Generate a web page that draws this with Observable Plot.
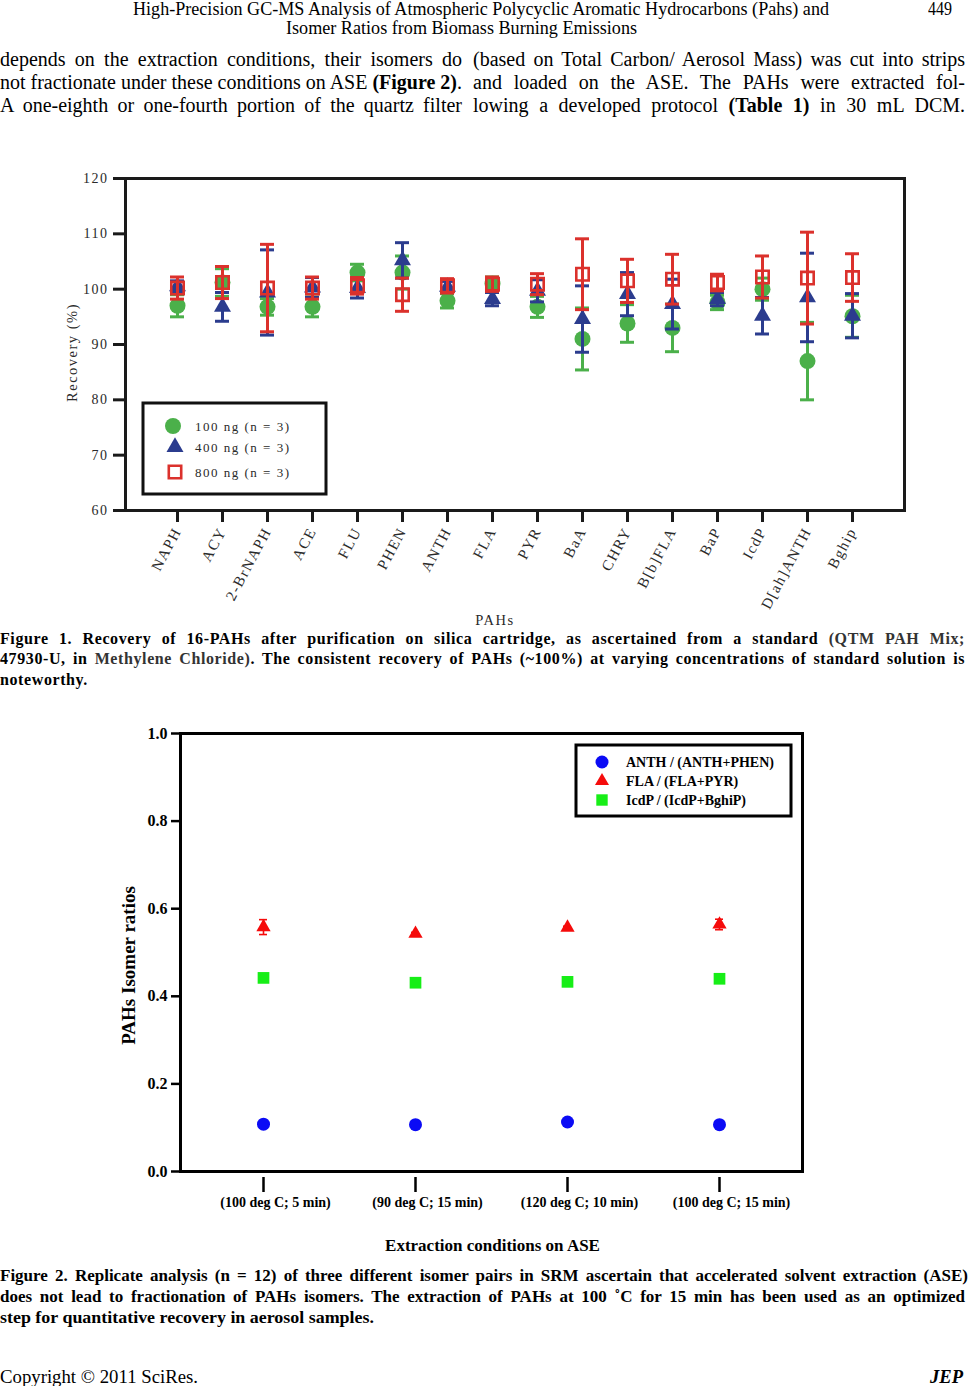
<!DOCTYPE html>
<html><head><meta charset="utf-8">
<script src="https://cdn.jsdelivr.net/npm/d3@7"></script>
<script src="https://cdn.jsdelivr.net/npm/@observablehq/plot@0.6"></script>
<style>
html,body{margin:0;padding:0;background:#fff}
body{width:970px;height:1386px;position:relative;overflow:hidden;font-family:"Liberation Serif","Times New Roman",serif;color:#000}
.ln{position:absolute;white-space:nowrap;line-height:1;transform-origin:0 50%}
.chart{position:absolute;left:0}
</style></head><body>
<div id="c1" class="chart" style="top:160px"></div>
<div id="c2" class="chart" style="top:715px"></div>
<script>
// ---------- Figure 1 data ----------
const pahs = ["NAPH","ACY","2-BrNAPH","ACE","FLU","PHEN","ANTH","FLA","PYR","BaA","CHRY","B[b]FLA","BaP","IcdP","D[ah]ANTH","Bghip"];
const rec100 = [97.0,101.2,96.8,96.8,103.0,103.0,97.9,101.0,96.8,91.0,93.8,93.0,97.6,100.0,87.0,95.1];
const sd100  = [2.0,2.5,1.5,1.8,1.5,3.0,1.3,1.2,1.9,5.6,3.4,4.3,1.3,2.0,7.0,3.8];
const rec400 = [100.5,96.8,99.4,100.3,100.2,105.2,100.4,98.2,99.7,94.6,99.1,97.3,98.2,95.2,98.5,95.2];
const sd400  = [1.0,2.6,7.7,1.8,1.8,3.2,1.0,1.2,2.0,6.0,3.9,4.5,1.2,3.3,8.0,4.0];
const rec800 = [100.2,101.2,100.2,100.2,100.6,99.0,100.6,100.9,100.9,102.7,101.5,101.8,101.2,102.2,102.0,102.1];
const sd800  = [2.0,2.9,7.9,2.0,1.5,3.0,1.3,1.3,1.9,6.4,3.9,4.5,1.5,3.8,8.3,4.3];
const yTicks1 = [60,70,80,90,100,110,120];
const legend1 = ["100 ng (n = 3)","400 ng (n = 3)","800 ng (n = 3)"];
const title1Y = "Recovery (%)", title1X = "PAHs";

// ---------- Figure 2 data ----------
const conditions = ["(100 deg C; 5 min)","(90 deg C; 15 min)","(120 deg C; 10 min)","(100 deg C; 15 min)"];
const anth = [0.108,0.107,0.113,0.107];
const anthSd = [0.003,0.003,0.003,0.003];
const fla = [0.558,0.543,0.557,0.564];
const flaSd = [0.017,0.003,0.003,0.012];
const icdp = [0.442,0.431,0.433,0.440];
const icdpSd = [0.004,0.004,0.004,0.004];
const yTicks2 = [0,0.2,0.4,0.6,0.8,1.0];
const legend2 = ["ANTH / (ANTH+PHEN)","FLA / (FLA+PYR)","IcdP / (IcdP+BghiP)"];
const title2Y = "PAHs Isomer ratios", title2X = "Extraction conditions on ASE";

const makeRows = (cats, vals, sds) => cats.map((c,i)=>({cat:c, v:vals[i], lo:vals[i]-sds[i], hi:vals[i]+sds[i]}));

// ---------- page text ----------
function addLine(html, o){
  const d = document.createElement("div");
  d.className = "ln";
  d.innerHTML = html;
  d.style.fontSize = o.size + "px";
  d.style.fontWeight = o.weight || "normal";
  d.style.fontStyle = o.style || "normal";
  if (o.ls) d.style.letterSpacing = o.ls + "px";
  if (o.color) d.style.color = o.color;
  d.style.left = o.x + "px";
  d.style.top = (o.y - o.size*0.55) + "px";
  document.body.appendChild(d);
  const nat = d.getBoundingClientRect().width;
  const mode = o.mode || "auto";
  if (mode === "auto" && nat <= o.w) {
    d.style.whiteSpace = "normal";
    d.style.width = o.w + "px";
    d.style.textAlign = "justify";
    d.style.textAlignLast = "justify";
  } else if (mode !== "none") {
    d.style.transform = `scaleX(${o.w/nat})`;
  }
}
addLine("High-Precision GC-MS Analysis of Atmospheric Polycyclic Aromatic Hydrocarbons (Pahs) and",{x:133,y:9,w:696,size:19,mode:"fit"});
addLine("Isomer Ratios from Biomass Burning Emissions",{x:286,y:28,w:351,size:19,mode:"fit"});
addLine("449",{x:928,y:9,w:24,size:19,mode:"fit"});

addLine("depends on the extraction conditions, their isomers do",{x:0,y:60,w:462,size:20});
addLine("not fractionate under these conditions on ASE <b>(Figure 2)</b>.",{x:0,y:83,w:462,size:20});
addLine("A one-eighth or one-fourth portion of the quartz filter",{x:0,y:106,w:462,size:20});
addLine("(based on Total Carbon/ Aerosol Mass) was cut into strips",{x:473,y:60,w:492,size:20});
addLine("and loaded on the ASE. The PAHs were extracted fol-",{x:473,y:83,w:492,size:20});
addLine("lowing a developed protocol <b>(Table 1)</b> in 30 mL DCM.",{x:473,y:106,w:492,size:20});

addLine("Figure 1. Recovery of 16-PAHs after purification on silica cartridge, as ascertained from a standard <span style='color:#333'>(QTM PAH Mix;</span>",{x:0,y:640,w:965,size:16,ls:0.6,weight:"bold"});
addLine("47930-U, in <span style='color:#333'>Methylene Chloride)</span>. The consistent recovery of PAHs (~100%) at varying concentrations of standard solution is",{x:0,y:660,w:965,size:16,ls:0.6,weight:"bold"});
addLine("noteworthy.",{x:0,y:681,w:86,size:16,ls:0.6,weight:"bold",mode:"none"});

addLine("Figure 2. Replicate analysis (n = 12) of three different isomer pairs in SRM ascertain that accelerated solvent extraction (ASE)",{x:0,y:1276,w:968,size:17,weight:"bold"});
addLine("does not lead to fractionation of PAHs isomers. The extraction of PAHs at 100 ˚C for 15 min has been used as an optimized",{x:0,y:1297,w:965,size:17,weight:"bold"});
addLine("step for quantitative recovery in aerosol samples.",{x:0,y:1318,w:374,size:17,weight:"bold",mode:"fit"});

addLine("Copyright © 2011 SciRes.",{x:0,y:1378,w:198,size:18,mode:"fit"});
addLine("JEP",{x:930,y:1378,w:33,size:18,weight:"bold",style:"italic",mode:"fit"});

// ---------- Figure 1 chart ----------
const G = "#4bb04a", B = "#2b3c8e", R = "#db312c";
const s1 = [
  {rows: makeRows(pahs, rec100, sd100), color: G, dot: {symbol:"circle", r:8, fill:G}},
  {rows: makeRows(pahs, rec400, sd400), color: B, dot: {symbol:"triangle", r:6.3, fill:B}},
  {rows: makeRows(pahs, rec800, sd800), color: R, dot: {symbol:"square", r:7, fill:"none", stroke:R, strokeWidth:2.6}}
];
const marks1 = s1.flatMap(s => [
  Plot.ruleX(s.rows, {x:"cat", y1:"lo", y2:"hi", stroke:s.color, strokeWidth:3}),
  Plot.tickY(s.rows, {x:"cat", y:"lo", stroke:s.color, strokeWidth:3}),
  Plot.tickY(s.rows, {x:"cat", y:"hi", stroke:s.color, strokeWidth:3}),
  Plot.dot(s.rows, {x:"cat", y:"v", ...s.dot})
]);
const chart1 = Plot.plot({
  width: 970, height: 475,
  marginLeft: 125, marginRight: 66, marginTop: 18, marginBottom: 125,
  x: {type:"band", domain: pahs, paddingInner: 0.694, paddingOuter: 0.847},
  y: {domain: [60,120]},
  style: {fontFamily:"'Liberation Serif', serif", fontSize:"14px", letterSpacing:"1.5px", color:"#2a2a2a", background:"white", overflow:"visible"},
  marks: [
    ...marks1,
    Plot.frame({stroke:"#1a1a1a", strokeWidth:3}),
    Plot.axisY({ticks: yTicks1, tickSize:12, tickPadding:5, stroke:"#1a1a1a", strokeWidth:3, label:null}),
    Plot.axisX({tickSize:12, tickPadding:6, tickRotate:-62, fontSize:15, stroke:"#1a1a1a", strokeWidth:3, label:null}),
    Plot.text([title1Y], {text: d => d, frameAnchor:"left", textAnchor:"middle", rotate:-90, dx:-53, dy:8, fontSize:14.5, fill:"#2a2a2a"}),
    Plot.text([title1X], {text: d => d, frameAnchor:"bottom", textAnchor:"middle", dx:-20, dy:114, fontSize:14.5, fill:"#2a2a2a"})
  ]
});
document.getElementById("c1").appendChild(chart1);
{
  const svg = d3.select(chart1);
  const g = svg.append("g").attr("font-size", 13).attr("text-anchor","start");
  g.append("rect").attr("x",143).attr("y",243).attr("width",183).attr("height",91)
    .attr("fill","white").attr("stroke","#111").attr("stroke-width",3);
  const ys = [266, 287, 312];
  g.append("circle").attr("cx",173).attr("cy",ys[0]).attr("r",8).attr("fill",G);
  g.append("path").attr("transform",`translate(175,${ys[1]})`).attr("d", d3.symbol(d3.symbolTriangle, 125)()).attr("fill",B);
  g.append("path").attr("transform",`translate(175,${ys[2]})`).attr("d", d3.symbol(d3.symbolSquare, 154)()).attr("fill","none").attr("stroke",R).attr("stroke-width",2.6);
  legend1.forEach((t,i)=> g.append("text").attr("x",195).attr("y",ys[i]).attr("dy","0.35em").attr("fill","#2a2a2a").text(t));
}

// ---------- Figure 2 chart ----------
const BL = "#0b0bf5", RD = "#f50b0b", GR = "#17ee17";
const s2 = [
  {rows: makeRows(conditions, anth, anthSd), color: BL, dot: {symbol:"circle", r:6.5, fill:BL}},
  {rows: makeRows(conditions, fla, flaSd), color: RD, dot: {symbol:"triangle", r:5.3, fill:RD}},
  {rows: makeRows(conditions, icdp, icdpSd), color: GR, dot: {symbol:"square", r:6.6, fill:GR}}
];
const marks2 = s2.flatMap(s => [
  Plot.ruleX(s.rows, {x:"cat", y1:"lo", y2:"hi", stroke:s.color, strokeWidth:1.6}),
  Plot.tickY(s.rows, {x:"cat", y:"lo", stroke:s.color, strokeWidth:1.6}),
  Plot.tickY(s.rows, {x:"cat", y:"hi", stroke:s.color, strokeWidth:1.6}),
  Plot.dot(s.rows, {x:"cat", y:"v", ...s.dot})
]);
const chart2 = Plot.plot({
  width: 970, height: 560,
  marginLeft: 180, marginRight: 168, marginTop: 18, marginBottom: 104,
  x: {type:"band", domain: conditions, paddingInner: 0.948, paddingOuter: 0.514},
  y: {domain: [0,1]},
  style: {fontFamily:"'Liberation Serif', serif", fontWeight:"bold", fontSize:"14px", color:"black", background:"white", overflow:"visible"},
  marks: [
    ...marks2,
    Plot.frame({stroke:"black", strokeWidth:3}),
    Plot.axisY({ticks: yTicks2, tickFormat: d3.format(".1f"), tickSize:9, tickPadding:4, strokeWidth:2.5, fontSize:16, label:null}),
    Plot.axisX({tickSize:15, dy:6, strokeWidth:2.5, tickFormat: () => "", label:null}),
    Plot.axisX({tickSize:0, tickPadding:26, dx:12, fontSize:14, label:null}),
    Plot.text([title2Y], {text: d => d, frameAnchor:"left", textAnchor:"middle", rotate:-90, dx:-52, dy:13, fontSize:19, fontWeight:"bold"}),
    Plot.text([title2X], {text: d => d, frameAnchor:"bottom", textAnchor:"middle", dx:1, dy:79, fontSize:17, fontWeight:"bold"})
  ]
});
document.getElementById("c2").appendChild(chart2);
{
  const svg = d3.select(chart2);
  const g = svg.append("g").attr("font-size", 14).attr("font-weight","bold").attr("text-anchor","start");
  g.append("rect").attr("x",576).attr("y",30).attr("width",215).attr("height",71)
    .attr("fill","white").attr("stroke","black").attr("stroke-width",3);
  const ys = [47, 66, 85];
  g.append("circle").attr("cx",602).attr("cy",ys[0]).attr("r",6.5).attr("fill",BL);
  g.append("path").attr("transform",`translate(602,${ys[1]})`).attr("d", d3.symbol(d3.symbolTriangle, 85)()).attr("fill",RD);
  g.append("path").attr("transform",`translate(602,${ys[2]})`).attr("d", d3.symbol(d3.symbolSquare, 130)()).attr("fill",GR);
  legend2.forEach((t,i)=> g.append("text").attr("x",626).attr("y",ys[i]).attr("dy","0.35em").attr("fill","black").text(t));
}
</script>
</body></html>
